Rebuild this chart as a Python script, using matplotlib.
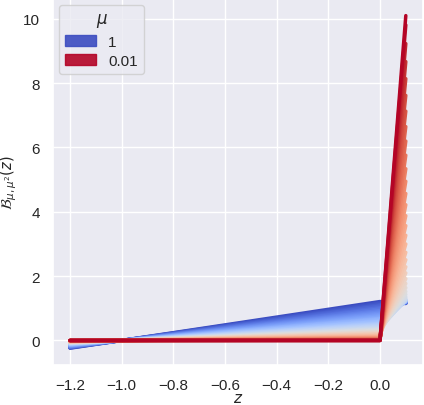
import matplotlib
matplotlib.use("Agg")
import matplotlib.pyplot as plt
import matplotlib.patches as mpatches
import seaborn as sns

# z positions where the curves bend
z_nodes = [-1.2, -1.0, 0.0, 0.1]

# mu values, from 1 down to 0.01
mu_vals = [1.00, 0.98, 0.96, 0.94, 0.92, 0.90, 0.88, 0.86, 0.84, 0.82,
           0.80, 0.78, 0.76, 0.74, 0.72, 0.70, 0.68, 0.66, 0.64, 0.62,
           0.60, 0.58, 0.56, 0.54, 0.52, 0.50, 0.48, 0.46, 0.44, 0.42,
           0.40, 0.38, 0.36, 0.34, 0.32, 0.30, 0.28, 0.26, 0.24, 0.22,
           0.20, 0.18, 0.16, 0.14, 0.12, 0.10, 0.08, 0.06, 0.04, 0.02, 0.01]

# value of each curve at z = -1.2
b_left = [-0.24, -0.23, -0.22, -0.21, -0.20, -0.20, -0.19, -0.18, -0.17, -0.16,
          -0.15, -0.15, -0.14, -0.13, -0.12, -0.12, -0.11, -0.10, -0.10, -0.09,
          -0.09, -0.08, -0.07, -0.07, -0.06, -0.06, -0.05, -0.05, -0.05, -0.04,
          -0.04, -0.03, -0.03, -0.03, -0.02, -0.02, -0.02, -0.02, -0.01, -0.01,
          -0.01, -0.01, -0.01, 0.00, 0.00, 0.00, 0.00, 0.00, 0.00, 0.00, 0.00]

# value at z = -1.0
b_minus1 = [0.0] * len(mu_vals)

# value at z = 0
b_zero = [1.21, 1.16, 1.11, 1.07, 1.02, 0.98, 0.93, 0.89, 0.85, 0.81,
          0.77, 0.73, 0.69, 0.66, 0.62, 0.59, 0.55, 0.52, 0.49, 0.46,
          0.43, 0.40, 0.37, 0.35, 0.32, 0.30, 0.27, 0.25, 0.23, 0.21,
          0.19, 0.17, 0.15, 0.13, 0.12, 0.10, 0.09, 0.08, 0.07, 0.05,
          0.04, 0.04, 0.03, 0.02, 0.01, 0.01, 0.01, 0.00, 0.00, 0.00, 0.00]

# value at z = 0.1
b_right = [1.15, 1.16, 1.16, 1.17, 1.17, 1.18, 1.18, 1.19, 1.19, 1.20,
           1.20, 1.21, 1.21, 1.22, 1.22, 1.23, 1.23, 1.24, 1.24, 1.25,
           1.25, 1.26, 1.30, 1.35, 1.43, 1.52, 1.64, 1.77, 1.92, 2.10,
           2.29, 2.51, 2.74, 3.00, 3.27, 3.57, 3.88, 4.22, 4.57, 4.95,
           5.34, 5.76, 6.20, 6.65, 7.13, 7.62, 8.14, 8.67, 9.23, 9.81, 10.10]

sns.set_theme(style="darkgrid")
plt.rcParams['font.family'] = ['Liberation Sans', 'DejaVu Sans']

fig, ax = plt.subplots(figsize=(4.24, 4.06), dpi=100)
fig.subplots_adjust(left=0.1255, right=0.9967, top=1.0, bottom=0.099)

cmap = plt.get_cmap('coolwarm')
mu_min, mu_max = min(mu_vals), max(mu_vals)

for i, mu in enumerate(mu_vals):
    c = cmap((mu_max - mu) / (mu_max - mu_min))
    ys = [b_left[i], b_minus1[i], b_zero[i], b_right[i]]
    ax.plot(z_nodes, ys, color=c, lw=2.5)

ax.set_xticks([-1.2, -1.0, -0.8, -0.6, -0.4, -0.2, 0.0])
ax.set_yticks([0, 2, 4, 6, 8, 10])
ax.set_xlabel('$z$', labelpad=-0.5, fontsize=11)
ax.set_ylabel(r'$\mathcal{B}_{\mu,\mu^2}(z)$', fontsize=10.5)
ax.yaxis.set_label_coords(-0.092, 0.5)

handles = [mpatches.Patch(facecolor=cmap(0.0), edgecolor=cmap(0.0), alpha=0.9, label='1'),
           mpatches.Patch(facecolor=cmap(1.0), edgecolor=cmap(1.0), alpha=0.9, label='0.01')]
ax.legend(handles=handles, title=r'$\mu$', loc='upper left',
          labelspacing=0.35, borderaxespad=0.4)

fig.savefig('out.png', dpi=100)
